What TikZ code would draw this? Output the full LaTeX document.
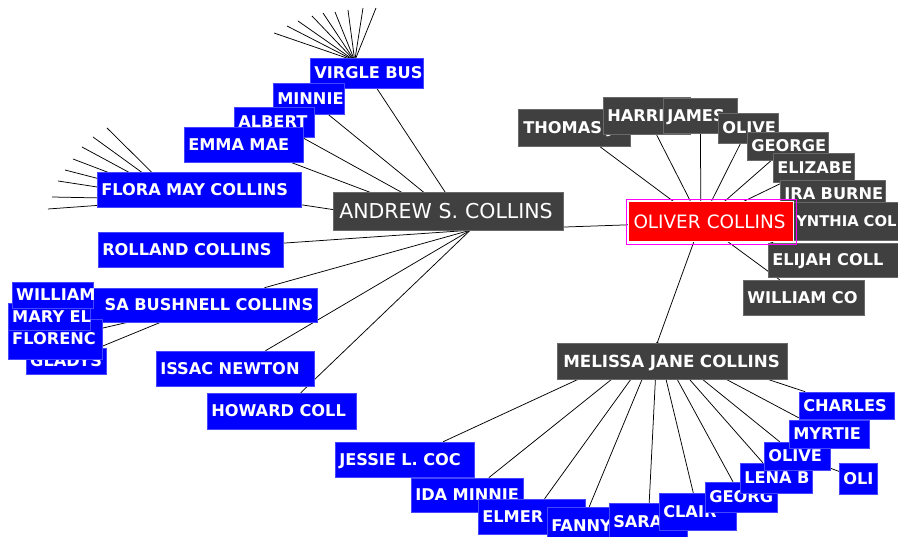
\documentclass[tikz,border=0pt]{standalone}
\usepackage{fontspec}
\setmainfont{DejaVu Sans}
\usetikzlibrary{backgrounds}
\definecolor{treeblue}{RGB}{0,0,255}
\definecolor{treerim}{RGB}{70,70,255}
\definecolor{treegrey}{RGB}{64,64,64}
\definecolor{greyrim}{RGB}{105,105,105}
\definecolor{focusred}{RGB}{255,0,0}
\definecolor{focusrim}{RGB}{255,0,255}
\tikzset{
  lbl/.style={anchor=west, inner xsep=4pt, inner ysep=0pt, align=left, text=white,
    text height=11.8pt, text depth=0pt, font=\fontsize{16.2}{18}\selectfont\bfseries},
  bluebox/.style={lbl, fill=treeblue, draw=treerim, line width=.5pt},
  greybox/.style={lbl, fill=treegrey, draw=greyrim, line width=.5pt},
  bigbox/.style={greybox, inner xsep=6pt, text height=15pt, font=\fontsize{20.5}{22}\selectfont},
  midbox/.style={greybox, inner xsep=6pt, text height=12.2pt, font=\fontsize{16.7}{18}\selectfont\bfseries},
  focusbox/.style={lbl, fill=focusred, draw=white, line width=1pt, inner xsep=5pt,
    text height=13.4pt, font=\fontsize{18.4}{20}\selectfont},
  link/.style={line width=.75pt},
}
\begin{document}
\begin{tikzpicture}[x=1pt, y=-1pt]
\useasboundingbox (0,0) rectangle (898,537);

% Andrew S. Collins and his branch
\node (virgle) at (310,73)[bluebox, text width=105pt, minimum height=30pt]{VIRGLE~BUS};
\node (minnie) at (273,98.5)[bluebox, text width=63pt, minimum height=31pt]{MINNIE};
\node (albert) at (234,122)[bluebox, text width=72pt, minimum height=30pt]{ALBERT};
\node (emma) at (184,144.5)[bluebox, text width=111pt, minimum height=35pt]{EMMA~MAE};
\node (flora) at (97,189.5)[bluebox, text width=196pt, minimum height=35pt]{FLORA~MAY~COLLINS};
\node (rolland) at (98,249.5)[bluebox, text width=177pt, minimum height=35pt]{ROLLAND~COLLINS};
\node (bushnell) at (88,305)[bluebox, align=right, text width=221pt, minimum height=34pt]{SA~BUSHNELL~COLLINS};
\node (issac) at (156,368.5)[bluebox, text width=150pt, minimum height=35pt]{ISSAC~NEWTON};
\node (howard) at (207,411)[bluebox, text width=141pt, minimum height=36pt]{HOWARD~COLL};
\node (gladys) at (26,361)[bluebox, text width=72pt, minimum height=26pt]{GLADYS};
\node (florenc) at (8,339)[bluebox, text width=86pt, minimum height=40pt]{FLORENC};
\node (marye) at (8,316.5)[bluebox, text width=74pt, minimum height=27pt]{MARY~EL};
\node (william) at (12,295)[bluebox, text width=73pt, minimum height=26pt]{WILLIAM};
\node (andrew) at (333,211)[bigbox, text width=218pt, minimum height=38pt]{ANDREW~S.~COLLINS};

% Oliver Collins and his children
\node (thomas) at (518,127.5)[greybox, inner xsep=5pt, text width=102pt, minimum height=37pt]{THOMAS~J.};
\node (harri) at (603,115.5)[greybox, text width=79pt, minimum height=37pt]{HARRI};
\node (james) at (663,115.5)[greybox, text width=66pt, minimum height=35pt]{JAMES};
\node (olivetop) at (718,128)[greybox, text width=52pt, minimum height=30pt]{OLIVE};
\node (george) at (747,146)[greybox, text width=73pt, minimum height=28pt]{GEORGE};
\node (elizabe) at (773,167.5)[greybox, text width=73pt, minimum height=29pt]{ELIZABE};
\node (ira) at (780,194)[greybox, text width=97pt, minimum height=28pt]{IRA~BURNE};
\node (cynthia) at (785,221)[greybox, inner xsep=11pt, text width=138pt, minimum height=38pt,
    font=\fontsize{14.8}{17}\selectfont\bfseries]{YNTHIA~COL};
\node (elijah) at (768,260)[greybox, text width=122pt, minimum height=34pt]{ELIJAH~COLL};
\node (williamco) at (743,297.5)[greybox, text width=113pt, minimum height=35pt]{WILLIAM~CO};
\node (oliver) at (628,222)[focusbox, text width=155pt, minimum height=40pt]{OLIVER~COLLINS};
\draw[focusrim, line width=1pt] ([shift={(-2pt,2pt)}]oliver.north west) rectangle ([shift={(2pt,-2pt)}]oliver.south east);

% Melissa Jane Collins and her children
\node (melissa) at (557,361)[midbox, text width=218pt, minimum height=36pt]{MELISSA~JANE~COLLINS};
\node (jessie) at (335,459.5)[bluebox, text width=131pt, minimum height=35pt]{JESSIE~L.~COC};
\node (ida) at (411,495)[bluebox, text width=104pt, minimum height=34pt]{IDA~MINNIE};
\node (elmer) at (478,516.5)[bluebox, text width=99pt, minimum height=35pt]{ELMER};
\node (fanny) at (547,526)[bluebox, text width=60pt, minimum height=38pt]{FANNY};
\node (sara) at (609,521.5)[bluebox, text width=70pt, minimum height=37pt]{SARA};
\node (clair) at (659,511.5)[bluebox, text width=69pt, minimum height=37pt]{CLAIR};
\node (georg) at (705,497)[bluebox, text width=64pt, minimum height=30pt]{GEORG};
\node (lena) at (740,478)[bluebox, text width=64pt, minimum height=30pt]{LENA~B};
\node (olivebot) at (764,456)[bluebox, text width=58pt, minimum height=28pt]{OLIVE};
\node (oli) at (839,478.5)[bluebox, text width=30pt, minimum height=31pt]{OLI};
\node (myrtie) at (789,434)[bluebox, text width=72pt, minimum height=28pt]{MYRTIE};
\node (charles) at (799,405.5)[bluebox, text width=87pt, minimum height=27pt]{CHARLES};

\begin{scope}[on background layer]
\fill[white] (0,0) rectangle (898,537);
\coordinate (andrew hub) at ([xshift=22pt]andrew.south);
\coordinate (oliver hub) at ([xshift=-10pt]oliver.center);
\coordinate (melissa hub) at ([xshift=-15pt]melissa.north);
\coordinate (virgle hub) at ([xshift=-12pt,yshift=-3pt]virgle.north);
\coordinate (flora hub) at ([xshift=-20pt,yshift=-10pt]flora.center);

\foreach \n in {virgle,minnie,albert,emma,flora,rolland,bushnell,issac,howard,oliver}
    \draw[link] (andrew hub) -- (\n);
\foreach \n in {william,marye,florenc,gladys}
    \draw[link] (bushnell) -- (\n);
\foreach \n in {thomas,harri,james,olivetop,george,elizabe,ira,cynthia,elijah,williamco,melissa hub}
    \draw[link] (oliver hub) -- (\n);
\foreach \n in {jessie,ida,elmer,fanny,sara,clair,georg,lena,olivebot,myrtie,charles}
    \draw[link] (melissa hub) -- (\n);
\draw[link] (olivebot) -- (oli);

% unlabelled grandchildren
\foreach \u/\v [count=\i] in {274/33,287/26,298/21,312/16,323/13,335/12,348/10,363/8,376/8}
{
    \coordinate (vtip\i) at (\u,\v);
    \draw[link] (vtip\i) -- (virgle hub);
}
\foreach \u/\v [count=\i] in {48/209,52/197,58/181,65/170,73/159,82/147,93/137,107/128}
{
    \coordinate (ftip\i) at (\u,\v);
    \draw[link] (ftip\i) -- (flora hub);
}
\end{scope}
\end{tikzpicture}
\end{document}
